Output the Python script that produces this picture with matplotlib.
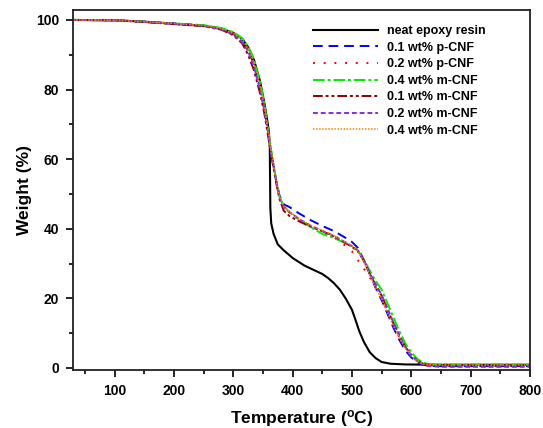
import matplotlib
matplotlib.use("Agg")
import matplotlib.pyplot as plt
from matplotlib.ticker import MultipleLocator

plt.rcParams['font.family'] = ['Liberation Sans', 'DejaVu Sans']
plt.rcParams['font.weight'] = 'bold'
plt.rcParams['mathtext.fontset'] = 'custom'
plt.rcParams['mathtext.rm'] = 'Liberation Sans:bold'
plt.rcParams['mathtext.it'] = 'Liberation Sans:bold'
plt.rcParams['mathtext.default'] = 'rm'

# neat epoxy resin (own temperature grid, sharp step near 362 C)
neat_T = [30, 100, 150, 200, 250, 280, 300, 315, 325, 335, 345, 352, 357, 360, 361.5,
          362.5, 364, 368, 375, 385, 400, 420, 440, 450, 460, 470, 480, 490, 500, 506, 512,
          520, 530, 540, 550, 565, 590, 650, 800]
neat_W = [100, 99.9, 99.5, 98.9, 98.3, 97.5, 96.3, 94.6, 92.2, 88.5, 82.5, 76.5, 71.5, 68, 64,
          46, 41.5, 38.5, 35.5, 33.8, 31.6, 29.4, 27.8, 27.0, 25.8, 24.3, 22.4, 19.8, 16.7, 13.8,
          10.7, 7.5, 4.5, 2.8, 1.7, 1.2, 1.0, 0.9, 0.9]

# CNF composites, shared temperature grid
T = [30, 100, 150, 200, 250, 280, 300, 315, 325, 335, 345, 352, 358, 363, 368, 372, 378,
     385, 395, 410, 430, 450, 470, 490, 500, 510, 520, 530, 540, 550, 560, 570, 580, 590,
     600, 610, 620, 630, 650, 700, 800]

p01 = [100, 99.9, 99.5, 99.0, 98.4, 97.4, 96.0, 94.0, 91.3, 87.3, 80.8, 75.0, 68.8, 63, 58,
       54.2, 49.5, 47.0, 46.2, 44.5, 42.5, 40.8, 39.3, 37.3, 36.2, 34.5, 31.0, 27.0, 23.0, 19.5,
       15.5, 11.5, 8.0, 5.0, 3.0, 1.6, 0.9, 0.6, 0.5, 0.5, 0.5]
p02 = [100, 99.9, 99.5, 99.0, 98.4, 97.5, 96.2, 94.3, 91.8, 87.8, 81.3, 75.3, 69, 63, 58,
       54, 49, 46.3, 44.6, 42.8, 40.8, 39.2, 37.5, 35.0, 33.5, 31.0, 28.5, 26.0, 23.0, 20.0,
       16.2, 12.3, 8.8, 5.8, 3.5, 2.0, 1.2, 0.9, 0.8, 0.8, 0.8]
m04 = [100, 99.9, 99.5, 99.0, 98.5, 97.7, 96.5, 94.8, 92.4, 88.6, 82.3, 76.3, 69.5, 63.5, 58.3,
       54.3, 49.2, 46.5, 44.7, 42.8, 40.5, 38.5, 37.3, 35.8, 35.0, 33.8, 31.2, 28.0, 25.0, 22.5,
       18.5, 14.5, 10.5, 7.0, 4.5, 2.6, 1.5, 1.1, 1.0, 1.0, 1.0]
m01 = [100, 99.9, 99.4, 98.8, 98.2, 97.2, 95.6, 93.3, 90.0, 85.5, 79.0, 73.5, 67.5, 62, 57.3,
       53.5, 48.5, 45.2, 43.6, 42.2, 40.6, 39.3, 37.8, 35.8, 34.8, 33.5, 30.8, 27.0, 23.8, 20.8,
       16.8, 12.8, 9.2, 6.0, 3.7, 2.1, 1.2, 0.8, 0.7, 0.7, 0.7]
m02 = [100, 99.9, 99.5, 98.9, 98.3, 97.3, 95.8, 93.7, 91.0, 86.5, 80.0, 74.3, 68.3, 62.5, 57.8,
       54.0, 49.0, 46.3, 44.7, 42.9, 40.9, 39.4, 37.9, 36.0, 35.0, 33.7, 31.0, 27.3, 24.0, 21.0,
       17.0, 13.0, 9.3, 6.0, 3.6, 1.9, 0.9, 0.5, 0.3, 0.3, 0.3]
m04b = [100, 99.9, 99.5, 99.0, 98.4, 97.5, 96.2, 94.3, 91.8, 87.8, 81.5, 75.5, 69, 63.2, 58.2,
        54.2, 49.2, 46.4, 44.8, 43.0, 41.0, 39.5, 38.0, 36.0, 35.0, 33.6, 30.5, 26.8, 23.0, 19.8,
        15.8, 12.0, 8.6, 5.6, 3.4, 2.0, 1.2, 0.9, 0.8, 0.8, 0.8]

labels = ['neat epoxy resin', '0.1 wt% p-CNF', '0.2 wt% p-CNF', '0.4 wt% m-CNF',
          '0.1 wt% m-CNF', '0.2 wt% m-CNF', '0.4 wt% m-CNF']

fig = plt.figure(figsize=(5.43, 4.28), dpi=100)
ax = fig.add_axes([73 / 543, 1 - 370 / 428, (530 - 73) / 543, (370 - 9.5) / 428])

ax.plot(neat_T, neat_W, color='black', lw=1.5, label=labels[0])
ax.plot(T, p01, color='#0000FF', lw=1.4, dashes=(5, 3), label=labels[1])
ax.plot(T, p02, color='#FF0000', lw=1.4, dashes=(1, 4.5), label=labels[2])
ax.plot(T, m04, color='#00EE00', lw=1.4, dashes=(6, 1.5, 1.5, 1.5), label=labels[3])
ax.plot(T, m01, color='#8B0000', lw=1.4, dashes=(5, 1.5, 1.5, 1.5, 1.5, 1.5), label=labels[4])
ax.plot(T, m02, color='#8A2BE2', lw=1.4, dashes=(2.5, 1.5), label=labels[5])
ax.plot(T, m04b, color='#FF8000', lw=1.1, dashes=(1, 1), label=labels[6])

ax.set_xlim(30, 800)
ax.set_ylim(-0.6, 103)
ax.xaxis.set_major_locator(MultipleLocator(100))
ax.xaxis.set_minor_locator(MultipleLocator(50))
ax.yaxis.set_major_locator(MultipleLocator(20))
ax.yaxis.set_minor_locator(MultipleLocator(10))
ax.tick_params(which='major', direction='out', length=5, width=1.2, labelsize=10, pad=5)
ax.tick_params(which='minor', direction='out', length=3, width=1.2)
for s in ax.spines.values():
    s.set_linewidth(1.3)
    s.set_color('#222222')

ax.set_xlabel('Temperature ($^{o}$C)', fontsize=12.5, fontweight='bold', labelpad=7)
ax.set_ylabel('Weight (%)', fontsize=12.5, fontweight='bold', labelpad=3)

ax.legend(loc='upper left', bbox_to_anchor=(313 / 543, 1 - 25 / 428),
          bbox_transform=fig.transFigure, frameon=False, fontsize=9,
          handlelength=5.2, handletextpad=0.72, labelspacing=0.37,
          borderpad=0, borderaxespad=0)

fig.savefig('out.png', dpi=100)
